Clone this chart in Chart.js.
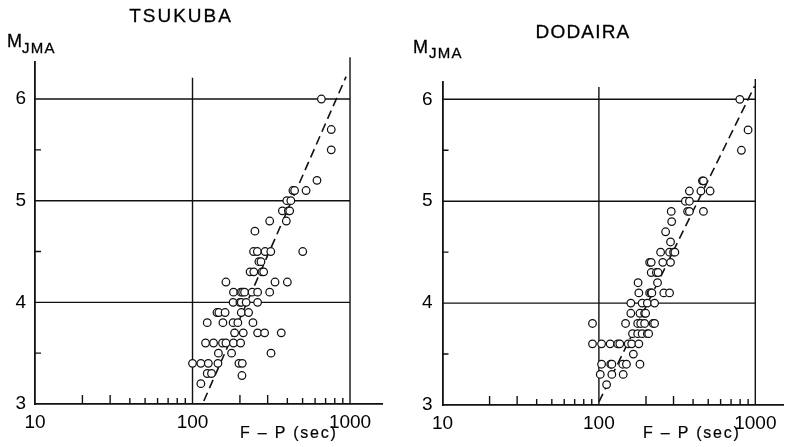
<!DOCTYPE html>
<html>
<head>
<meta charset="utf-8">
<script src="https://cdn.jsdelivr.net/npm/chart.js@4.4.0/dist/chart.umd.min.js"></script>
<style>
    body { margin: 0; background: #fff; }
    #wrap { position: relative; width: 789px; height: 447px; overflow: hidden; font-family: "Liberation Sans", Arial, sans-serif; color: #000; }
    canvas { position: absolute; top: 0; }
    .txt { position: absolute; white-space: nowrap; line-height: 1; }
    .title { font-size: 19px; transform: translateX(-50%); -webkit-text-stroke: 0.3px #000; }
    .m { font-size: 18px; -webkit-text-stroke: 0.3px #000; }
    .sub { font-size: 15px; letter-spacing: 1.2px; -webkit-text-stroke: 0.3px #000; }
    .fp { font-size: 16px; letter-spacing: 1.8px; -webkit-text-stroke: 0.2px #000; }
</style>
</head>
<body>
<div id="wrap">
    <canvas id="tsukuba" width="395" height="447" style="left:0"></canvas>
    <canvas id="dodaira" width="394" height="447" style="left:395px"></canvas>

    <div class="txt title" style="left:181px; top:6px; letter-spacing:2px">TSUKUBA</div>
    <div class="txt title" style="left:583px; top:22px; letter-spacing:1.2px">DODAIRA</div>

    <div class="txt m" style="left:7px; top:32px">M</div>
    <div class="txt sub" style="left:22px; top:40px">JMA</div>
    <div class="txt m" style="left:413px; top:38px">M</div>
    <div class="txt sub" style="left:429px; top:45px">JMA</div>

    <div class="txt fp" style="left:240px; top:425px">F – P (sec)</div>
    <div class="txt fp" style="left:643px; top:425px">F – P (sec)</div>
</div>

<script>
// eixos
const xTicks = [10, 100, 1000];
const yTicks = [3, 4, 5, 6];
const minorLong = [20, 30, 200, 300];
const minorShort = [40, 50, 60, 70, 80, 90, 400, 500, 600, 700, 800, 900];
const minorY = [3.5, 4.5, 5.5];
const gridM = [4, 5, 6];
const gridFrom = 10;
const gridTo = 1000;
const vLines = [100, 1000];

// TSUKUBA (F-P em segundos, magnitude)
const tsukubaFP = [
    658, 760, 760, 617,
    434, 445, 526,
    397, 421,
    372, 406, 414,
    309, 394,
    249,
    244, 258, 289, 314, 501,
    264, 272,
    232, 245, 276, 283,
    163, 334, 400,
    182, 203, 208, 214, 239, 259, 309,
    181, 200, 204, 219, 259,
    143, 147, 161, 204, 227,
    124, 156, 181, 194, 242,
    185, 210, 259, 287, 366,
    121, 136, 155, 163, 182, 202,
    146, 177, 315,
    100, 113, 126, 145, 197, 207,
    124, 132, 206,
    113
];
const tsukubaM = [
    6.0, 5.7, 5.5, 5.2,
    5.1, 5.1, 5.1,
    5.0, 5.0,
    4.9, 4.9, 4.9,
    4.8, 4.8,
    4.7,
    4.5, 4.5, 4.5, 4.5, 4.5,
    4.4, 4.4,
    4.3, 4.3, 4.3, 4.3,
    4.2, 4.2, 4.2,
    4.1, 4.1, 4.1, 4.1, 4.1, 4.1, 4.1,
    4.0, 4.0, 4.0, 4.0, 4.0,
    3.9, 3.9, 3.9, 3.9, 3.9,
    3.8, 3.8, 3.8, 3.8, 3.8,
    3.7, 3.7, 3.7, 3.7, 3.7,
    3.6, 3.6, 3.6, 3.6, 3.6, 3.6,
    3.5, 3.5, 3.5,
    3.4, 3.4, 3.4, 3.4, 3.4, 3.4,
    3.3, 3.3, 3.28,
    3.2
];
const tsukubaFitFP = [118, 944];
const tsukubaFitM = [3.03, 6.22];
const tsukubaTops = [6.21, 6.41]; // topo das linhas verticais em 100 e 1000

// DODAIRA
const dodairaFP = [
    796, 899, 815,
    459, 466,
    379, 449, 514,
    357, 379,
    290, 369, 379, 466,
    292, 267, 287,
    248, 283, 300, 306,
    211, 216, 256, 287,
    216, 233, 239,
    178, 237,
    180, 211, 216, 218, 260, 283,
    160, 189, 204, 227,
    160, 183, 196, 199,
    91, 148, 177, 185, 196, 222, 227,
    164, 177, 189, 204, 208,
    91, 104, 118, 132, 136, 154, 162, 180,
    166,
    104, 119, 121, 142, 150, 183,
    102, 121, 143,
    112
];
const dodairaM = [
    6.0, 5.7, 5.5,
    5.2, 5.2,
    5.1, 5.1, 5.1,
    5.0, 5.0,
    4.9, 4.9, 4.9, 4.9,
    4.8, 4.7, 4.6,
    4.5, 4.5, 4.5, 4.5,
    4.4, 4.4, 4.4, 4.4,
    4.3, 4.3, 4.3,
    4.2, 4.2,
    4.1, 4.1, 4.1, 4.1, 4.1, 4.1,
    4.0, 4.0, 4.0, 4.0,
    3.9, 3.9, 3.9, 3.9,
    3.8, 3.8, 3.8, 3.8, 3.8, 3.8, 3.8,
    3.7, 3.7, 3.7, 3.7, 3.7,
    3.6, 3.6, 3.6, 3.6, 3.6, 3.6, 3.6, 3.6,
    3.5,
    3.4, 3.4, 3.4, 3.4, 3.4, 3.4,
    3.3, 3.3, 3.3,
    3.2
];
const dodairaFitFP = [100, 990];
const dodairaFitM = [3.03, 6.13];
const dodairaTops = [6.12, 6.20];

const INK = "#111";

// marcas menores nos eixos (para dentro)
const minorTicks = {
    id: "minorTicks",
    afterDatasetsDraw(chart) {
        const { ctx, scales: { x, y } } = chart;
        const yb = y.getPixelForValue(3);
        ctx.save();
        ctx.strokeStyle = INK;
        ctx.lineWidth = 1.4;
        ctx.beginPath();
        minorLong.forEach((v) => {
            const px = x.getPixelForValue(v);
            ctx.moveTo(px, yb);
            ctx.lineTo(px, yb - 9);
        });
        minorShort.forEach((v) => {
            const px = x.getPixelForValue(v);
            ctx.moveTo(px, yb);
            ctx.lineTo(px, yb - 6);
        });
        minorY.forEach((v) => {
            const py = y.getPixelForValue(v);
            ctx.moveTo(x.left, py);
            ctx.lineTo(x.left + 6, py);
        });
        ctx.stroke();
        ctx.restore();
    },
};

function segment(a, b) {
    return {
        data: [a, b],
        showLine: true,
        borderColor: INK,
        borderWidth: 1.4,
        pointRadius: 0,
        clip: false,
    };
}

function makePanel(id, fp, m, fitFP, fitM, tops, g) {
    const datasets = [
        {
            data: fp.map((v, i) => ({ x: v, y: m[i] })),
            pointRadius: 3.8,
            pointBorderWidth: 1.25,
            pointBorderColor: INK,
            pointBackgroundColor: "#fff",
        },
        {
            data: fitFP.map((v, i) => ({ x: v, y: fitM[i] })),
            showLine: true,
            borderColor: INK,
            borderWidth: 1.6,
            borderDash: [9, 5],
            pointRadius: 0,
            clip: false,
        },
    ];
    gridM.forEach((v) => datasets.push(segment({ x: gridFrom, y: v }, { x: gridTo, y: v })));
    vLines.forEach((v, i) => datasets.push(segment({ x: v, y: 3 }, { x: v, y: tops[i] })));

    return new Chart(document.getElementById(id), {
        type: "scatter",
        data: { datasets },
        plugins: [minorTicks],
        options: {
            responsive: false,
            animation: false,
            events: [],
            layout: { padding: { left: 0, right: g.padRight, top: g.padTop, bottom: 0 } },
            plugins: { legend: { display: false }, tooltip: { enabled: false } },
            scales: {
                x: {
                    type: "logarithmic",
                    min: 10,
                    max: g.xMax,
                    offset: false,
                    afterBuildTicks: (s) => { s.ticks = xTicks.map((v) => ({ value: v })); },
                    afterFit: (s) => { s.height = g.xh; },
                    grid: { display: false, drawTicks: false },
                    border: { display: true, color: INK, width: 1.8 },
                    ticks: {
                        autoSkip: false,
                        maxRotation: 0,
                        padding: 7,
                        color: "#000",
                        font: { family: "Liberation Sans", size: 19 },
                        callback: (v) => String(v),
                    },
                },
                y: {
                    min: 3,
                    max: g.yMax,
                    afterBuildTicks: (s) => { s.ticks = yTicks.map((v) => ({ value: v })); },
                    afterFit: (s) => { s.width = g.yw; },
                    grid: { display: false, drawTicks: false },
                    border: { display: true, color: INK, width: 1.8 },
                    ticks: {
                        padding: g.yPad,
                        color: "#000",
                        font: { family: "Liberation Sans", size: 19 },
                        callback: (v) => String(v),
                    },
                },
            },
        },
    });
}

makePanel("tsukuba", tsukubaFP, tsukubaM, tsukubaFitFP, tsukubaFitM, tsukubaTops,
    { xMax: 1596, yMax: 6.37, yw: 35, xh: 43, padTop: 61.4, padRight: 13, yPad: 9 });
makePanel("dodaira", dodairaFP, dodairaM, dodairaFitFP, dodairaFitM, dodairaTops,
    { xMax: 1520, yMax: 6.17, yw: 47.5, xh: 42, padTop: 82, padRight: 2, yPad: 10 });
</script>
</body>
</html>
